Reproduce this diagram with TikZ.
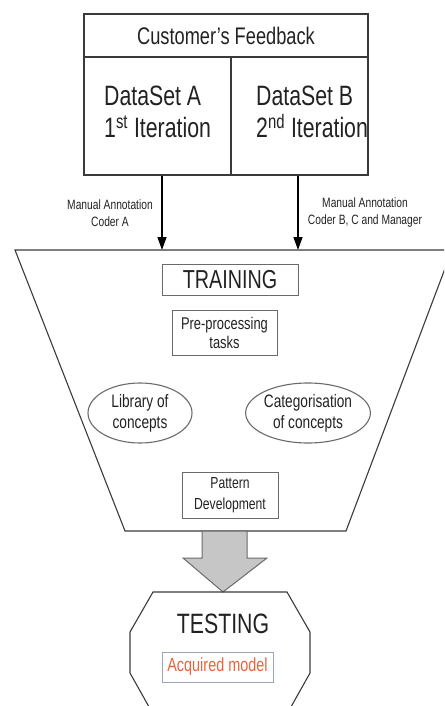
\documentclass[tikz,border=0pt]{standalone}
\usepackage{fontspec}
\setmainfont[FakeStretch=0.76]{Liberation Sans}
\usetikzlibrary{shapes.geometric,arrows.meta}
\definecolor{linec}{HTML}{3A3A3A}
\definecolor{boxc}{HTML}{6A6A6A}
\definecolor{txtc}{HTML}{222222}
\definecolor{accent}{HTML}{E8643C}
\definecolor{accbox}{HTML}{9AA5B5}
\begin{document}
\begin{tikzpicture}[x=1pt,y=-1pt,
  every node/.style={text=txtc},
  cell/.style={draw=linec, line width=1.4pt, inner sep=0pt},
  txt/.style={inner sep=0pt, align=center},
  inbox/.style={draw=boxc, line width=1pt, inner sep=0pt, align=center},
  oval/.style={ellipse, draw=boxc, line width=1.1pt, inner sep=0pt, align=center},
  conn/.style={draw=black, line width=1.4pt, -{Triangle[length=13pt,width=9pt]}},
  frame/.style={draw=linec, line width=1.1pt}
]
\useasboundingbox (0,0) rectangle (444,706);
\clip (0,0) rectangle (444,706);

% top box
\node[cell, minimum width=284pt, minimum height=43pt] (cf) at (226,35.5) {};
\node[txt, font=\fontsize{24}{28}\selectfont] (cft) at (cf.center) {Customer's Feedback};
\node[cell, minimum width=147pt, minimum height=118pt] (dsa) at (157.5,116) {};
\node[cell, minimum width=137pt, minimum height=118pt] (dsb) at (299.5,116) {};
\node[txt, align=left, anchor=west, font=\fontsize{28}{32}\selectfont] (dsat) at (104,112) {DataSet A\\1\textsuperscript{st} Iteration};
\node[txt, align=left, anchor=west, font=\fontsize{28}{32}\selectfont] (dsbt) at (256,112) {DataSet B\\2\textsuperscript{nd} Iteration};

% trapezoid (training funnel)
\coordinate (tl) at (15,250);
\coordinate (tr) at (452,250);
\coordinate (br) at (346,531);
\coordinate (bl) at (125,531);
\draw[frame] (tl) -- (tr) -- (br) -- (bl) -- cycle;
\coordinate (ina) at (162,250);
\coordinate (inb) at (298,250);

% arrows
\draw[conn] (dsa.south -| ina) -- (ina);
\draw[conn] (dsb.south -| inb) -- (inb);
\node[txt, font=\fontsize{13.5}{17}\selectfont] (la) at (110,213) {Manual Annotation\\Coder A};
\node[txt, font=\fontsize{13.5}{17}\selectfont] (lb) at (365,213) {Manual Annotation\\Coder B, C and Manager};

% training contents
\node[inbox, minimum width=136pt, minimum height=31pt, font=\fontsize{26}{30}\selectfont] (train) at (230,279.5) {TRAINING};
\node[inbox, minimum width=105pt, minimum height=45pt, font=\fontsize{17}{19}\selectfont] (pre) at (224.5,332.5) {Pre-processing\\tasks};
\node[oval, minimum width=104pt, minimum height=60pt, font=\fontsize{18}{21}\selectfont] (lib) at (140,413) {Library of\\concepts};
\node[oval, minimum width=107pt, minimum height=60pt, font=\fontsize{18}{21}\selectfont] (cat) at (308,413) {Categorisation\\of concepts};
\node[inbox, minimum width=96pt, minimum height=46pt, font=\fontsize{16}{21}\selectfont] (pat) at (230,495) {Pattern\\Development};

% block arrow
\draw[draw=boxc, line width=1pt, fill=gray!45]
  (202,531) -- (247,531) -- (247,558) -- (267,558) -- (223,592) -- (183,558) -- (202,558) -- cycle;

% testing octagon
\draw[frame] (153,592) -- (287,592) -- (310,632) -- (310,673) -- (287,714) -- (153,714) -- (130,673) -- (130,632) -- cycle;
\node[txt, font=\fontsize{28}{32}\selectfont] (test) at (223,624) {TESTING};
\node[draw=accbox, line width=1pt, inner sep=0pt, minimum width=111pt, minimum height=30pt, text=accent, font=\fontsize{19}{22}\selectfont] (acq) at (217.5,667) {Acquired model};
\end{tikzpicture}
\end{document}
